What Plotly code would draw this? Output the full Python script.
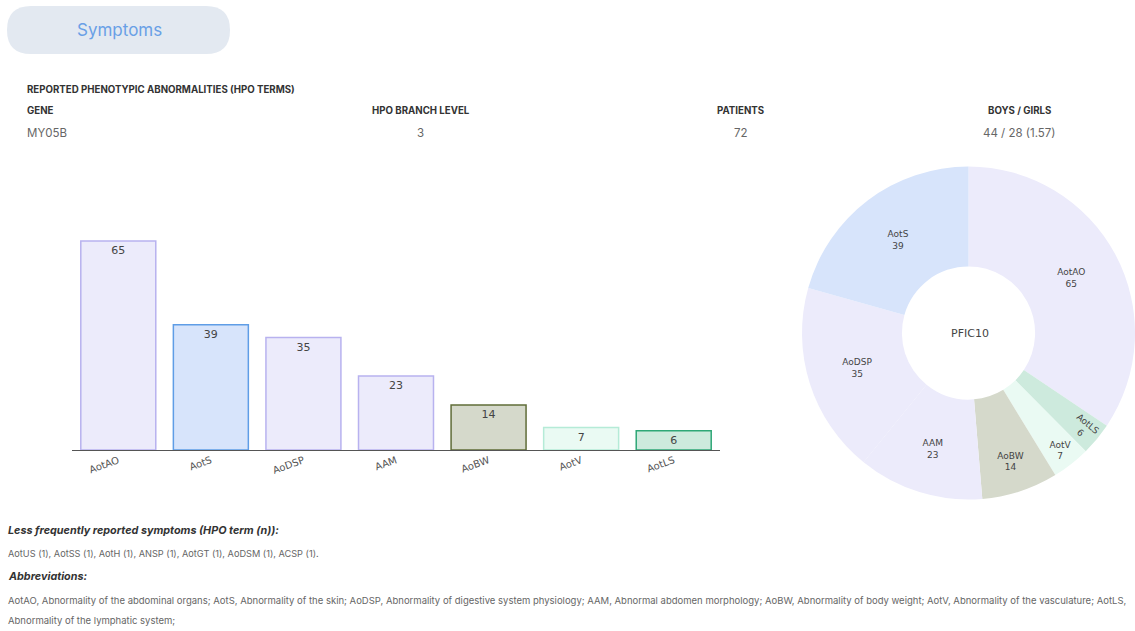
import plotly.graph_objects as go

W, H = 1135, 631

categories = ["AotAO", "AotS", "AoDSP", "AAM", "AoBW", "AotV", "AotLS"]
counts = [65, 39, 35, 23, 14, 7, 6]
fill_colors = ["#ecebfb", "#d7e4fb", "#ecebfb", "#ecebfb", "#d5d9cb", "#eafaf3", "#cdeadd"]
line_colors = ["#b8b2ef", "#5f9de6", "#b8b2ef", "#b8b2ef", "#606d39", "#b5ebd7", "#2fa777"]
pie_order = [0, 6, 5, 4, 3, 2, 1]

header_labels = ["GENE", "HPO BRANCH LEVEL", "PATIENTS", "BOYS / GIRLS"]
header_values = ["MY05B", "3", "72", "44 / 28 (1.57)"]
less_frequent = "AotUS (1), AotSS (1), AotH (1), ANSP (1), AotGT (1), AoDSM (1), ACSP (1)."
abbrev_line1 = ("AotAO, Abnormality of the abdominal organs; AotS, Abnormality of the skin; "
                "AoDSP, Abnormality of digestive system physiology; AAM, Abnormal abdomen morphology; "
                "AoBW, Abnormality of body weight; AotV, Abnormality of the vasculature; AotLS,")
abbrev_line2 = "Abnormality of the lymphatic system;"


def px(x):
    return x / W


def py(y):
    return 1 - y / H


fig = go.Figure()

fig.add_trace(go.Bar(
    x=categories, y=counts, text=[str(v) for v in counts],
    textposition="inside", insidetextanchor="end",
    textfont=dict(family="DejaVu Sans", size=11, color="#444"),
    marker=dict(color=fill_colors, line=dict(color=line_colors, width=1.5)),
    hoverinfo="x+y", showlegend=False,
))

fig.add_trace(go.Pie(
    labels=[categories[i] for i in pie_order],
    values=[counts[i] for i in pie_order],
    marker=dict(colors=[fill_colors[i] for i in pie_order], line=dict(width=0)),
    sort=False, direction="clockwise", hole=0.40,
    textinfo="label+value", textposition="inside",
    insidetextorientation="auto",
    textfont=dict(family="DejaVu Sans", size=9, color="#444"),
    domain=dict(x=[px(802), 1.0], y=[py(503), py(163)]),
    showlegend=False,
))

fig.update_layout(
    width=W, height=H,
    margin=dict(l=0, r=0, t=0, b=0),
    paper_bgcolor="white", plot_bgcolor="white",
    bargap=0.19,
    xaxis=dict(domain=[px(72), px(720)], showline=True, linecolor="#555", linewidth=1,
               ticks="", tickangle=-20,
               tickfont=dict(family="DejaVu Sans", size=10, color="#555"),
               showgrid=False, fixedrange=True),
    yaxis=dict(domain=[py(450), py(225)], range=[0, 70], visible=False,
               showgrid=False, zeroline=False, fixedrange=True),
    font=dict(family="Inter"),
)

# Symptoms pill
x0, x1, y0, y1, r = px(7), px(230), py(54), py(6), 24
rx, ry = r / W, r / H
path = (f"M {x0+rx},{y1} L {x1-rx},{y1} Q {x1},{y1} {x1},{y1-ry} L {x1},{y0+ry} "
        f"Q {x1},{y0} {x1-rx},{y0} L {x0+rx},{y0} Q {x0},{y0} {x0},{y0+ry} "
        f"L {x0},{y1-ry} Q {x0},{y1} {x0+rx},{y1} Z")
fig.add_shape(type="path", xref="paper", yref="paper", path=path,
              fillcolor="#e3e9f1", line=dict(width=0), layer="below")

ann = []


def text(s, x, y, size, color, xanchor="left", bold=False, italic=False, family="Inter"):
    if bold:
        s = f"<b>{s}</b>"
    if italic:
        s = f"<i>{s}</i>"
    if xanchor == "left":
        x -= 2
    ann.append(dict(text=s, x=px(x), y=py(y), xref="paper", yref="paper",
                    xanchor=xanchor, yanchor="middle", showarrow=False,
                    font=dict(family=family, size=size, color=color)))


text("Symptoms", 119, 30, 17, "#69a0e6", xanchor="center")
text("REPORTED PHENOTYPIC ABNORMALITIES (HPO TERMS)", 27, 90, 9.7, "#333", bold=True)
hx = [27, 421, 741, 1019]
anchors = ["left", "center", "center", "center"]
for lab, val, x, a in zip(header_labels, header_values, hx, anchors):
    text(lab, x, 110, 9.7, "#333", xanchor=a, bold=True)
    text(val, x, 133, 11.5, "#666", xanchor=a)

text("PFIC10", 970, 333, 11, "#444", xanchor="center", family="DejaVu Sans")

text("Less frequently reported symptoms (HPO term (n)):", 8, 530, 10.8, "#333", bold=True, italic=True)
text(less_frequent, 8, 553, 9.2, "#666")
text("Abbreviations:", 8, 576, 10.8, "#333", bold=True, italic=True)
text(abbrev_line1, 8, 600, 9.5, "#666")
text(abbrev_line2, 8, 620, 9.5, "#666")

fig.update_layout(annotations=ann)

fig.write_html("out.html")
